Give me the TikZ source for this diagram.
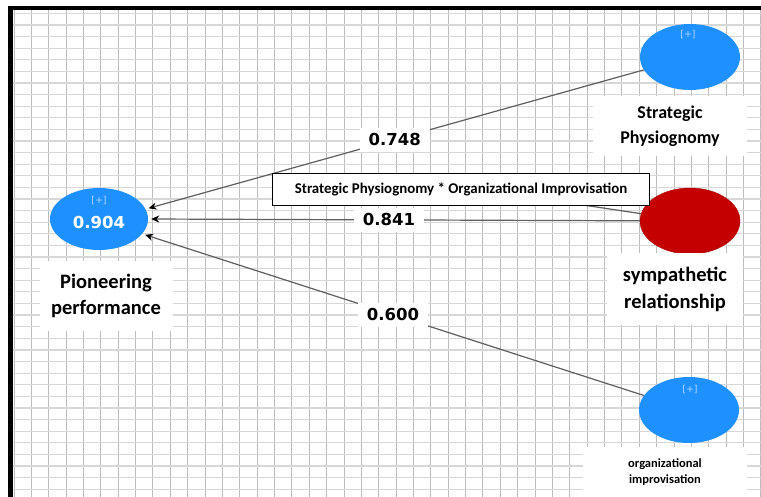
\documentclass[tikz,border=0pt]{standalone}
\usepackage{fontspec}
\setmainfont{Carlito}
\newfontfamily\numfont{DejaVu Sans}
\usetikzlibrary{shapes.geometric,arrows.meta}
\definecolor{latblue}{RGB}{30,144,255}
\definecolor{modred}{RGB}{196,0,0}
\definecolor{pathgray}{RGB}{95,95,95}
\definecolor{gridv}{RGB}{188,188,188}
\definecolor{gridh}{RGB}{215,215,215}
\begin{document}
\begin{tikzpicture}[x=1pt,y=-1pt,
    latent/.style={ellipse,fill=latblue,minimum width=100pt,minimum height=66pt,inner sep=0pt},
    moderator/.style={ellipse,fill=modred,draw=modred!85!black,minimum width=100pt,minimum height=66pt,inner sep=0pt},
    caption/.style={fill=white,align=center,inner sep=0pt},
    coef/.style={fill=white,font=\numfont\bfseries\fontsize{16.5}{18}\selectfont,minimum width=70pt,minimum height=24pt,inner sep=0pt},
    plus/.style={font=\numfont\fontsize{9.5}{10}\selectfont,text=latblue!35!white},
    relpath/.style={draw=pathgray,line width=1.2pt,-{Stealth[length=8pt,width=7pt,color=black]},shorten >=3pt}]
    \useasboundingbox (0,0) rectangle (761,497);
    \fill[white] (0,0) rectangle (761,497);
    \foreach \i in {0,...,43}
        \draw[gridv,line width=1pt] ({14+17.37*\i},10) -- ({14+17.37*\i},497);
    \foreach \j in {0,...,41}
        \draw[gridh,line width=1.2pt] (13,{13.5+11.6*\j}) -- (761,{13.5+11.6*\j});
    \draw[line width=4.5pt] (10.5,497) -- (10.5,8) -- (761,8);
    \node[latent,minimum width=98pt,minimum height=62pt] (pp) at (99,219) {};
    \node[plus] at (99,201) {[+]};
    \node[font=\numfont\bfseries\fontsize{16.5}{18}\selectfont,text=white] (ppval) at (99,222) {0.904};
    \node[latent] (sp) at (690,57) {};
    \node[plus] at (688,35) {[+]};
    \node[moderator] (sr) at (690,221) {};
    \node[latent] (oi) at (689,410) {};
    \node[plus] at (690,390) {[+]};
    \draw[relpath] (sp) -- (pp.12) node[coef,pos=0.5] (c748) {0.748};
    \draw[relpath] (sr) -- (pp.0) node[coef,pos=0.51] (c841) {0.841};
    \draw[relpath] (oi) -- (pp.-19) node[coef,pos=0.5] (c600) {0.600};
    \coordinate (tie) at (583,205);
    \draw[pathgray,line width=1.2pt] (sr) -- (tie);
    \node[caption,minimum width=133pt,minimum height=70pt,font=\bfseries\fontsize{20.5}{26}\selectfont] (pplab) at (106,296) {Pioneering\\performance};
    \node[caption,minimum width=154pt,minimum height=60pt,font=\bfseries\fontsize{18}{25}\selectfont] (splab) at (670,126) {Strategic\\Physiognomy};
    \node[caption,minimum width=136pt,minimum height=72pt,font=\bfseries\fontsize{20.5}{27}\selectfont] (srlab) at (675,289) {sympathetic\\relationship};
    \node[caption,minimum width=164pt,minimum height=50pt,font=\bfseries\fontsize{12.5}{16}\selectfont] (oilab) at (665,472) {organizational\\improvisation};
    \node[draw=black,fill=white,line width=0.8pt,minimum width=377pt,minimum height=32pt,inner sep=0pt,font=\bfseries\fontsize{14.9}{16}\selectfont] (inter) at (461,189) {Strategic Physiognomy * Organizational Improvisation};
\end{tikzpicture}
\end{document}
